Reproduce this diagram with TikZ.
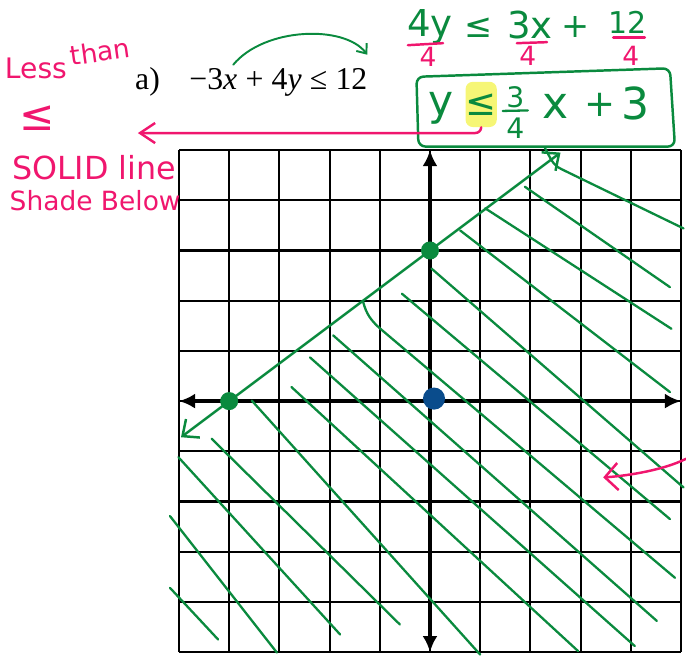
\documentclass[tikz,border=0pt]{standalone}
\usepackage{fontspec}
\setmainfont{Liberation Serif}
\newfontfamily\handfont{DejaVu Sans}
\usepackage{xcolor}
\usepackage{tikz}
\usetikzlibrary{positioning,arrows.meta,calc}

\definecolor{inkgreen}{RGB}{10,138,62}
\definecolor{inkpink}{RGB}{240,22,110}
\definecolor{inkblue}{RGB}{10,76,140}
\definecolor{hilite}{RGB}{246,246,118}

\begin{document}
\begin{tikzpicture}[
  gridline/.style={line width=1.2pt},
  axis/.style={line width=2.2pt, {Latex[length=3.2mm,width=3mm]}-{Latex[length=3.2mm,width=3mm]}},
  ink/.style={inkgreen, line width=1.4pt, line cap=round, line join=round},
  hatch/.style={inkgreen, line width=1.3pt, line cap=round},
  pinkink/.style={inkpink, line width=1.4pt, line cap=round, line join=round},
  gdot/.style={circle, fill=inkgreen, inner sep=0pt, minimum size=0.36cm},
  print/.style={font=\fontsize{18}{20}\selectfont, inner sep=0pt},
  hand/.style={font=\handfont\fontsize{#1}{#1}\selectfont, inner sep=0pt}
]
\useasboundingbox (-8.566,-5.10) rectangle (5.10,7.99);

% grid and axes
\draw[gridline] (-5,-5) grid (5,5);
\draw[axis] (-5,0) -- (5,0);
\draw[axis] (0,-5) -- (0,5);

% shading below the line
\draw[hatch] (2.29,5.04) to[out=-60,in=155] (2.62,4.62) -- (5.05,3.44);
\draw[hatch] (-1.33,1.97) to[out=-75,in=138] (-1.0,1.45) -- (4.88,-3.52);
\foreach \xa/\ya/\xb/\yb in {1.89/4.27/4.78/2.27, 1.10/3.84/4.81/1.44,
    0.60/3.40/4.78/0.18, 0.03/2.64/5.05/-1.72, -0.56/2.14/4.78/-2.35,
    -1.93/1.31/4.52/-4.38, -2.39/0.87/4.08/-4.88, -2.76/0.28/2.95/-4.98,
    -3.55/0.01/1.0/-5.05, -4.35/-0.75/-0.60/-4.45, -5.01/-1.12/-1.79/-4.65,
    -5.18/-2.29/-3.05/-5.01, -5.18/-3.72/-4.22/-4.75}
  \draw[hatch] (\xa,\ya) -- (\xb,\yb);

% boundary line through the intercepts
\coordinate (xint) at (-4,0);
\coordinate (yint) at (0,3);
\draw[ink, {Straight Barb[length=2.6mm,width=4.6mm]}-{Straight Barb[length=2.6mm,width=4.6mm]}]
  ($(xint)!-0.24!(yint)$) -- ($(xint)!1.65!(yint)$);
\node[gdot] (xdot) at (xint) {};
\node[gdot] (ydot) at (yint) {};
\node[circle, fill=inkblue, inner sep=0pt, minimum size=0.44cm] (orig) at (0.08,0.05) {};

% printed problem
\node[print, anchor=base west] (part) at (-5.88,6.20) {a)};
\node[print, anchor=base west] (ineq) at (-4.80,6.20) {−3\textit{x}\kern0.26em+\kern0.26em4\textit{y}\kern0.26em≤\kern0.26em12};
\coordinate (arcS) at (-3.92,6.70);
\coordinate (arcE) at (-1.25,6.90);
\draw[ink, line width=1.1pt, -{Straight Barb[length=1.6mm,width=2.6mm]}]
  (arcS) .. controls (-3.3,7.45) and (-1.7,7.5) .. (arcE);

% dividing by 4
\node[hand=21, text=inkgreen] (n4y) at (0.0,7.45) {4y};
\node[hand=19, text=inkgreen] (nle) at (0.96,7.43) {≤};
\node[hand=21, text=inkgreen] (n3x) at (1.99,7.50) {3x};
\node[hand=19, text=inkgreen] (nplus) at (2.89,7.45) {+};
\node[hand=17, text=inkgreen] (n12) at (3.94,7.55) {12};
\draw[pinkink] (-0.44,7.09) -- (0.26,7.13);
\draw[pinkink] (1.73,7.13) -- (2.33,7.15);
\draw[pinkink] (3.65,7.24) -- (4.28,7.24);
\node[hand=15, text=inkpink] (d1) at (-0.04,6.86) {4};
\node[hand=15, text=inkpink] (d2) at (1.95,6.88) {4};
\node[hand=15, text=inkpink] (d3) at (4.00,6.87) {4};

% boxed answer
\draw[ink, rounded corners=4pt] (-0.27,6.46) -- (4.78,6.63) -- (4.88,5.07) -- (-0.23,5.07) -- cycle;
\node[hand=24, text=inkgreen] (by) at (0.22,5.84) {y};
\node[fill=hilite, rounded corners=4pt, minimum width=0.62cm, minimum height=0.9cm] (hl) at (1.02,5.91) {};
\node[hand=21, text=inkgreen] (ble) at (hl) {≤};
\node[hand=16, text=inkgreen, align=center] (frac) at (1.70,5.74) {3\\[1.5pt]4};
\draw[ink, line width=1.3pt] (1.45,5.78) -- (1.95,5.79);
\node[hand=25, text=inkgreen] (bx) at (2.51,5.86) {x};
\node[hand=21, text=inkgreen] (bplus) at (3.39,5.90) {+};
\node[hand=25, text=inkgreen] (bthree) at (4.10,5.92) {3};

% notes in pink
\node[hand=16, text=inkpink] (less) at (-7.85,6.62) {Less};
\node[hand=15, text=inkpink, rotate=8] (than) at (-6.57,6.96) {than};
\node[hand=24, text=inkpink] (nle2) at (-7.83,5.64) {≤};
\node[hand=18, text=inkpink] (solid) at (-6.69,4.66) {SOLID line};
\node[hand=15, text=inkpink] (shade) at (-6.67,4.00) {Shade Below};
\coordinate (tipL) at (-5.82,5.34);
\draw[pinkink, -{Straight Barb[length=3mm,width=4mm]}]
  (hl.south) to[out=-90,in=0] (0.9,5.34) -- (tipL);
\coordinate (pkS) at (5.10,-1.15);
\coordinate (pkT) at (3.45,-1.52);
\draw[pinkink, -{Straight Barb[length=2.6mm,width=5.4mm]}]
  (pkS) .. controls (4.6,-1.4) and (3.8,-1.5) .. (pkT);
\end{tikzpicture}
\end{document}
